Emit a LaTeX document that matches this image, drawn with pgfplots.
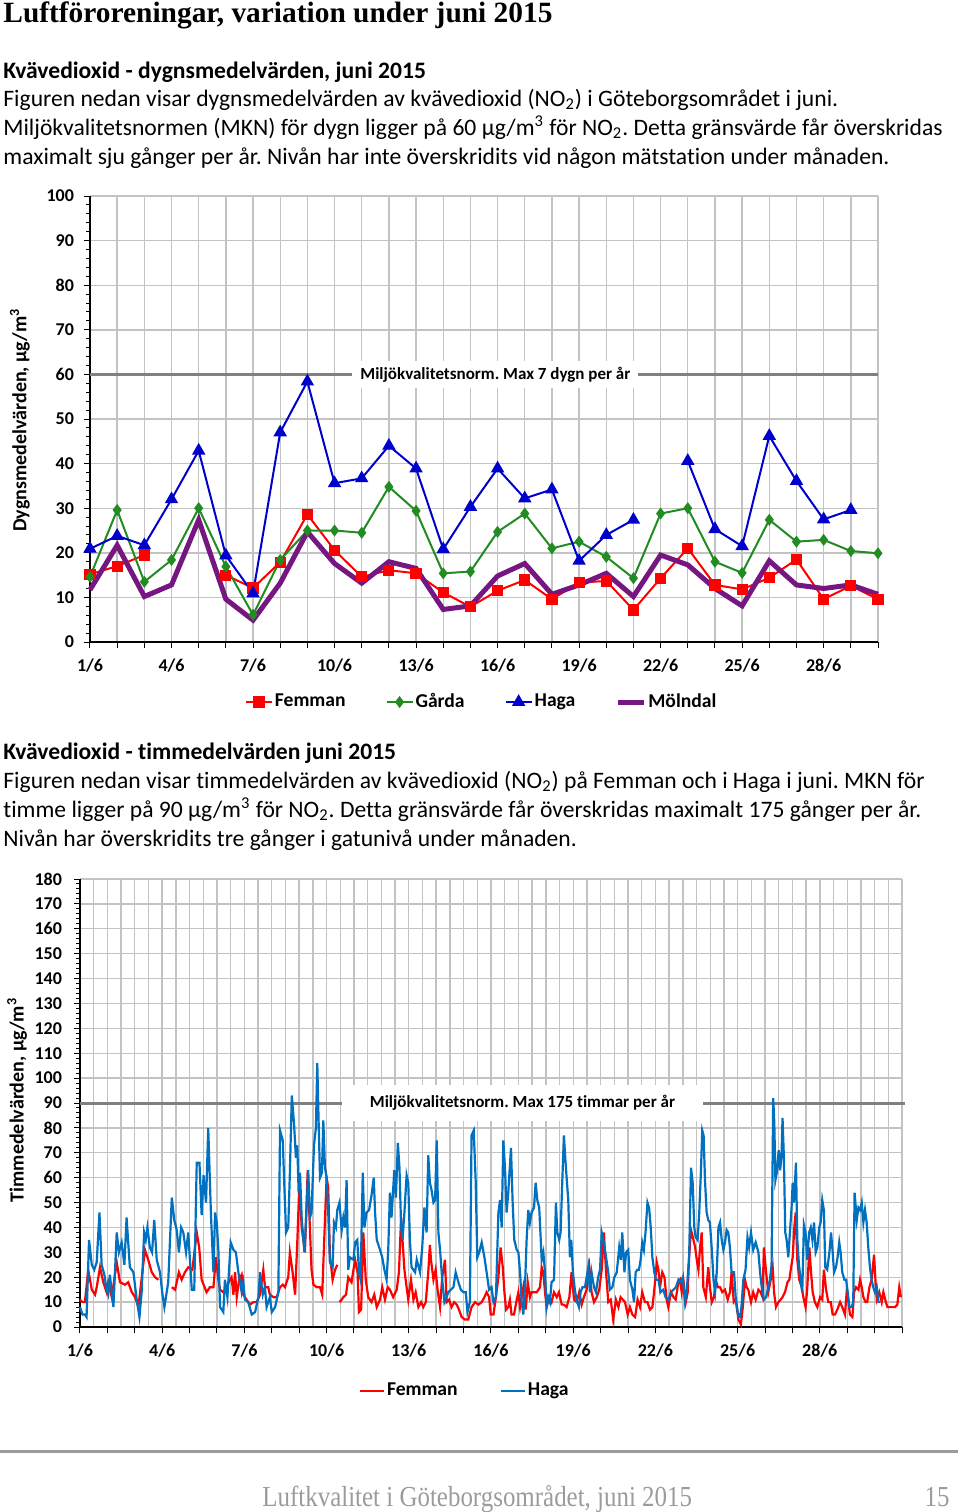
\documentclass[border=0pt]{standalone}
\usepackage{fontspec}
\setmainfont{Carlito}[Ligatures=NoCommon]
\newfontfamily\serifhead{Liberation Serif}
\newfontfamily\footfont{Liberation Serif}[FakeStretch=0.86]
\usepackage{pgfplots}
\usepackage{pgfplotstable}
\pgfplotsset{compat=1.18}
\frenchspacing
\definecolor{femred}{RGB}{255,0,0}
\definecolor{gargreen}{RGB}{34,139,34}
\definecolor{hagblue}{RGB}{0,0,204}
\definecolor{molpurple}{RGB}{118,22,128}
\definecolor{hagblue2}{RGB}{0,112,192}
\definecolor{gridgray}{RGB}{195,195,195}
\definecolor{mkngray}{RGB}{128,128,128}
\definecolor{footgray}{RGB}{155,155,155}

\pgfplotstableread{
day fem gar hag mol
1 15.2 14.6 20.9 11.7
2 17.0 29.6 23.8 21.7
3 19.5 13.5 21.7 10.2
4 nan 18.4 32.0 12.8
5 nan 30.0 42.9 27.4
6 15.0 16.9 19.4 9.6
7 12.1 6.1 10.9 4.9
8 17.9 18.4 47.0 13.2
9 28.6 25.0 58.4 24.7
10 20.6 25.0 35.6 17.6
11 14.6 24.5 36.7 13.2
12 16.1 34.8 44.0 18.0
13 15.4 29.4 38.9 16.5
14 11.1 15.4 20.8 7.3
15 7.9 15.8 30.3 8.1
16 11.5 24.7 38.9 14.8
17 13.9 28.8 32.2 17.6
18 9.6 21.0 34.2 10.7
19 13.3 22.5 18.2 12.8
20 13.7 19.1 24.0 15.4
21 7.2 14.3 27.4 10.2
22 14.3 28.8 nan 19.5
23 21.0 30.0 40.6 17.3
24 12.8 18.0 25.3 12.0
25 11.8 15.5 21.5 8.1
26 14.4 27.4 46.2 18.2
27 18.5 22.5 36.1 12.8
28 9.6 22.9 27.5 12.0
29 12.6 20.4 29.6 12.8
30 9.6 19.9 nan 10.7
}\topdata

\begin{document}
\begin{tikzpicture}
\useasboundingbox (0,0) rectangle (480pt,-756pt);
% texts
\node[anchor=base west, inner sep=0] at (1.5pt,-11pt) {\serifhead\bfseries\fontsize{14.7}{16}\selectfont Luftföroreningar, variation under juni 2015};
\node[anchor=base west, inner sep=0] at (1.5pt,-39pt) {\bfseries\fontsize{11.8}{14}\selectfont Kvävedioxid - dygnsmedelvärden, juni 2015};
\node[anchor=base west, inner sep=0] at (1.5pt,-53pt) {\fontsize{11.8}{14}\selectfont Figuren nedan visar dygnsmedelvärden av kvävedioxid (NO\textsubscript{2}) i Göteborgsområdet i juni.};
\node[anchor=base west, inner sep=0] at (1.5pt,-67.5pt) {\fontsize{11.8}{14}\selectfont Miljökvalitetsnormen (MKN) för dygn ligger på 60 µg/m\textsuperscript{3} för NO\textsubscript{2}. Detta gränsvärde får överskridas};
\node[anchor=base west, inner sep=0] at (1.5pt,-82pt) {\fontsize{11.8}{14}\selectfont maximalt sju gånger per år. Nivån har inte överskridits vid någon mätstation under månaden.};
\node[anchor=base west, inner sep=0] at (1.5pt,-379.5pt) {\bfseries\fontsize{11.8}{14}\selectfont Kvävedioxid - timmedelvärden juni 2015};
\node[anchor=base west, inner sep=0] at (1.5pt,-394pt) {\fontsize{11.8}{14}\selectfont Figuren nedan visar timmedelvärden av kvävedioxid (NO\textsubscript{2}) på Femman och i Haga i juni. MKN för};
\node[anchor=base west, inner sep=0] at (1.5pt,-408.5pt) {\fontsize{11.8}{14}\selectfont timme ligger på 90 µg/m\textsuperscript{3} för NO\textsubscript{2}. Detta gränsvärde får överskridas maximalt 175 gånger per år.};
\node[anchor=base west, inner sep=0] at (1.5pt,-423pt) {\fontsize{11.8}{14}\selectfont Nivån har överskridits tre gånger i gatunivå under månaden.};
% footer
\draw[footgray, line width=1.5pt] (0pt,-725.5pt) -- (479pt,-725.5pt);
\node[anchor=base west, inner sep=0, text=footgray] at (131pt,-753pt) {\footfont\fontsize{14.5}{16}\selectfont Luftkvalitet i Göteborgsområdet, juni 2015};
\node[anchor=base east, inner sep=0, text=footgray] at (475pt,-753pt) {\footfont\fontsize{14.5}{16}\selectfont 15};

% ---------- top chart
\begin{axis}[
  at={(45pt,-321pt)}, anchor=south west,
  scale only axis, width=394pt, height=223pt,
  xmin=1, xmax=30, ymin=0, ymax=100,
  axis lines=left, axis line style={-, black, line width=0.6pt},
  xtick={1,...,30},
  xticklabels={1/6,,,4/6,,,7/6,,,10/6,,,13/6,,,16/6,,,19/6,,,22/6,,,25/6,,,28/6,,},
  ytick={0,10,...,100},
  minor y tick num=4,
  xmajorgrids, ymajorgrids,
  grid style={gridgray, line width=0.7pt},
  tick style={black, line width=0.5pt},
  tick align=outside,
  major tick length=3pt, minor tick length=2pt,
  tick label style={font=\bfseries\fontsize{9}{10}\selectfont},
  xticklabel style={yshift=-2pt},
  yticklabel style={xshift=-1.5pt},
  /pgf/number format/assume math mode=true,
  ylabel={Dygnsmedelvärden, µg/m\textsuperscript{3}},
  ylabel style={font=\bfseries\fontsize{10}{12}\selectfont, at={(axis description cs:-0.089,0.498)}, anchor=center, rotate=0},
  unbounded coords=jump,
  clip=false,
  legend style={at={(axis description cs:0.497,-0.1345)}, anchor=center, draw=none, fill=none,
    legend columns=4, font=\bfseries\fontsize{9.8}{11}\selectfont,
    /tikz/every even column/.append style={column sep=19pt},
    nodes={inner xsep=1pt}},
  legend cell align=left,
  legend image code/.code={\draw[mark repeat=2,mark phase=2,#1] plot coordinates {(0pt,0pt) (6.5pt,0pt) (13pt,0pt)};},
]
\addplot[forget plot, mkngray, line width=1.5pt] coordinates {(1,60) (30,60)};
\node[fill=white, inner xsep=4pt, inner ysep=3pt, font=\bfseries\fontsize{8.5}{10}\selectfont] at (axis cs:15.92,60) {Miljökvalitetsnorm. Max 7 dygn per år};
\addplot[femred, line width=1pt, mark=square*, mark size=2.3pt, mark options={solid, fill=femred}] table[x=day, y=fem] {\topdata};
\addlegendentry{Femman}
\addplot[gargreen, line width=1pt, mark=diamond*, mark size=2.2pt, mark options={solid, fill=gargreen}] table[x=day, y=gar] {\topdata};
\addlegendentry{Gårda}
\addplot[hagblue, line width=1pt, mark=triangle*, mark size=2.9pt, mark options={solid, fill=hagblue}] table[x=day, y=hag] {\topdata};
\addlegendentry{Haga}
\addplot[molpurple, line width=2.5pt, no markers] table[x=day, y=mol] {\topdata};
\addlegendentry{Mölndal}
\end{axis}

% ---------- bottom chart
\begin{axis}[
  at={(40pt,-663.5pt)}, anchor=south west,
  scale only axis, width=411pt, height=224pt,
  xmin=0, xmax=30, ymin=0, ymax=180,
  axis lines=left, axis line style={-, black, line width=0.6pt},
  xtick={0,...,30},
  xticklabels={1/6,,,4/6,,,7/6,,,10/6,,,13/6,,,16/6,,,19/6,,,22/6,,,25/6,,,28/6,,,},
  minor x tick num=1,
  minor x tick style={draw=none},
  ytick={0,10,...,180},
  minor y tick num=4,
  xmajorgrids, xminorgrids, ymajorgrids,
  grid style={gridgray, line width=0.7pt},
  minor grid style={gridgray, line width=0.7pt},
  tick style={black, line width=0.5pt},
  tick align=outside,
  major tick length=3pt, minor tick length=2pt,
  tick label style={font=\bfseries\fontsize{9}{10}\selectfont},
  xticklabel style={yshift=-2pt},
  yticklabel style={xshift=-2.5pt},
  /pgf/number format/assume math mode=true,
  ylabel={Timmedelvärden, µg/m\textsuperscript{3}},
  ylabel style={font=\bfseries\fontsize{10}{12}\selectfont, at={(axis description cs:-0.0766,0.507)}, anchor=center, rotate=0},
  unbounded coords=jump,
  clip=false,
  legend style={at={(axis description cs:0.468,-0.143)}, anchor=center, draw=none, fill=none,
    legend columns=2, font=\bfseries\fontsize{9.8}{11}\selectfont,
    /tikz/every even column/.append style={column sep=20pt},
    nodes={inner xsep=1pt}},
  legend cell align=left,
  legend image code/.code={\draw[#1] (0pt,0pt) -- (12pt,0pt);},
]
\addplot[forget plot, mkngray, line width=1.5pt] coordinates {(0,90) (30.1,90)};
\node[fill=white, inner xsep=14pt, inner ysep=5pt, font=\bfseries\fontsize{8.5}{10}\selectfont] at (axis cs:16.15,90) {Miljökvalitetsnorm. Max 175 timmar per år};
\addplot[femred, line width=1.1pt, no markers] table {
t v
0 11
0.09 10
0.18 10
0.30 23
0.43 15
0.55 13
0.61 16
0.73 24
0.85 18
0.97 14
1.03 18
1.16 12
1.34 26
1.46 18
1.64 17
1.76 18
1.89 14
2.01 12
2.13 8
2.37 31
2.49 27
2.62 22
2.74 20
2.86 19
2.95 nan
3.35 16
3.47 15
3.61 22
3.71 19
3.83 22
3.95 24
4.10 23
4.26 38
4.35 32
4.44 19
4.62 14
4.74 16
4.87 16
4.96 28
5.05 19
5.11 15
5.23 14
5.35 16
5.47 19
5.53 20
5.60 13
5.66 22
5.72 12
5.81 19
5.90 21
5.96 13
6.08 11
6.20 9
6.33 10
6.45 10
6.57 13
6.69 23
6.75 16
6.87 16
6.93 13
7.06 12
7.18 12
7.30 16
7.40 17
7.48 16
7.60 20
7.66 30
7.76 22
7.85 13
7.93 34
8.01 59
8.09 40
8.21 30
8.31 63
8.39 40
8.45 23
8.52 17
8.64 16
8.76 16
8.84 13
8.93 40
9.00 60
9.06 56
9.12 29
9.22 19
9.31 23
9.39 25
9.43 nan
9.47 10
9.55 11
9.61 12
9.71 13
9.79 20
9.91 18
9.98 23
10.04 27
10.13 22
10.18 6
10.26 7
10.34 38
10.43 19
10.52 12
10.64 10
10.74 13
10.83 8
10.95 11
11.03 16
11.13 11
11.23 16
11.31 15
11.43 12
11.56 15
11.64 22
11.72 44
11.77 35
11.84 23
11.92 16
11.98 11
12.08 19
12.17 11
12.25 14
12.35 8
12.45 10
12.53 8
12.62 10
12.71 22
12.77 33
12.81 27
12.90 19
12.98 23
13.05 15
13.14 8
13.22 20
13.32 27
13.38 10
13.47 11
13.56 8
13.66 10
13.75 9
13.83 7
13.93 4
14.05 3
14.17 3
14.29 8
14.42 10
14.54 9
14.66 10
14.76 12
14.84 14
14.93 12
14.99 5
15.09 5
15.18 12
15.27 20
15.35 32
15.43 24
15.49 14
15.55 7
15.63 8
15.69 11
15.75 5
15.84 5
15.94 11
16.00 14
16.06 8
16.18 16
16.27 7
16.34 18
16.42 12
16.48 14
16.57 14
16.67 14
16.79 16
16.85 24
16.91 22
16.97 14
17.03 8
17.13 12
17.21 10
17.30 14
17.40 12
17.48 14
17.58 9
17.66 9
17.76 8
17.86 12
17.94 22
18.03 11
18.13 10
18.22 14
18.31 9
18.39 12
18.49 15
18.59 24
18.67 14
18.76 10
18.86 12
18.95 15
19.04 23
19.12 38
19.20 22
19.28 10
19.37 11
19.46 3
19.56 11
19.65 8
19.73 12
19.89 10
19.99 5
20.07 8
20.16 5
20.26 4
20.35 11
20.44 8
20.52 14
20.62 10
20.71 10
20.80 7
20.89 8
20.96 15
21.05 26
21.11 23
21.17 16
21.25 22
21.33 20
21.41 11
21.47 8
21.57 14
21.66 12
21.74 11
21.84 18
21.90 19
21.96 14
22.02 19
22.11 10
22.18 14
22.23 28
22.30 39
22.39 35
22.45 32
22.51 27
22.57 23
22.63 32
22.69 38
22.75 16
22.84 12
22.93 24
22.99 16
23.06 10
23.14 12
23.20 19
23.28 16
23.36 16
23.44 14
23.54 15
23.64 11
23.72 14
23.78 22
23.86 10
23.93 11
24.03 3
24.12 1
24.19 8
24.27 19
24.33 16
24.39 15
24.49 10
24.57 14
24.66 11
24.76 15
24.84 14
24.91 12
24.96 32
25.04 22
25.12 14
25.21 19
25.28 24
25.33 14
25.40 8
25.49 10
25.57 11
25.64 12
25.73 14
25.82 18
25.89 19
25.94 23
26.01 28
26.07 40
26.12 46
26.18 27
26.25 19
26.34 16
26.40 12
26.48 8
26.54 15
26.62 32
26.68 22
26.74 14
26.82 10
26.91 8
27.01 12
27.09 11
27.15 23
27.23 15
27.31 10
27.40 10
27.47 5
27.55 5
27.64 7
27.74 10
27.82 8
27.92 5
27.98 14
28.04 11
28.10 5
28.19 4
28.25 14
28.32 16
28.41 15
28.47 19
28.53 16
28.59 12
28.67 10
28.73 10
28.81 16
28.89 19
28.98 29
29.03 19
29.08 11
29.17 14
29.26 10
29.32 14
29.41 10
29.47 8
29.56 8
29.66 8
29.74 8
29.83 9
29.90 16
29.96 12
};
\addlegendentry{Femman}
\addplot[hagblue2, line width=1.1pt, no markers] table {
t v
0 8
0.09 5
0.18 5
0.24 4
0.33 35
0.43 25
0.52 23
0.61 26
0.71 46
0.79 25
0.89 21
0.97 15
1.03 13
1.09 21
1.22 8
1.34 38
1.42 30
1.52 34
1.62 25
1.70 44
1.82 24
1.95 22
2.07 11
2.17 4
2.25 14
2.34 38
2.40 35
2.46 40
2.55 32
2.63 30
2.71 43
2.80 27
2.92 22
3.00 14
3.08 8
3.22 18
3.35 52
3.44 43
3.53 39
3.61 30
3.69 40
3.77 38
3.87 30
3.95 38
4.08 15
4.17 15
4.26 66
4.36 66
4.44 45
4.51 61
4.60 50
4.68 80
4.78 45
4.87 22
4.93 46
4.99 42
5.05 31
5.11 8
5.23 6
5.29 19
5.38 12
5.50 34
5.60 31
5.69 30
5.78 22
5.90 14
5.96 18
6.02 11
6.14 10
6.27 5
6.39 6
6.51 12
6.57 22
6.67 13
6.75 16
6.81 8
6.93 12
7.00 6
7.12 8
7.24 14
7.30 79
7.40 75
7.45 59
7.52 38
7.60 40
7.66 62
7.73 93
7.81 82
7.88 68
7.93 73
7.98 54
8.03 62
8.09 44
8.19 30
8.27 48
8.33 63
8.39 44
8.45 46
8.54 73
8.61 80
8.66 106
8.71 82
8.76 60
8.83 62
8.88 83
8.94 64
9.00 60
9.06 46
9.12 26
9.22 24
9.27 42
9.34 40
9.39 47
9.47 50
9.55 39
9.61 44
9.67 40
9.73 59
9.79 23
9.85 28
9.98 27
10.04 34
10.12 35
10.18 22
10.24 19
10.32 62
10.38 40
10.46 46
10.55 47
10.64 53
10.72 60
10.77 46
10.83 35
10.89 33
10.95 31
11.03 28
11.11 23
11.19 19
11.25 31
11.31 54
11.37 44
11.47 63
11.53 52
11.60 74
11.66 64
11.72 40
11.77 35
11.84 46
11.92 61
11.98 58
12.04 35
12.10 24
12.23 22
12.29 27
12.41 22
12.49 32
12.57 48
12.65 38
12.71 69
12.77 58
12.83 55
12.90 50
12.96 51
13.02 75
13.08 38
13.14 31
13.22 19
13.30 10
13.38 12
13.44 14
13.54 15
13.63 16
13.71 22
13.81 18
13.90 15
13.99 14
14.08 14
14.14 6
14.23 10
14.29 77
14.37 79
14.44 59
14.50 28
14.57 30
14.66 34
14.76 28
14.84 22
14.93 15
15.02 16
15.09 10
15.18 12
15.27 46
15.33 51
15.39 40
15.45 75
15.51 64
15.57 46
15.63 54
15.73 72
15.79 50
15.85 35
15.94 31
16.00 30
16.06 22
16.12 10
16.18 5
16.24 16
16.30 35
16.36 47
16.42 42
16.48 46
16.57 48
16.63 58
16.69 51
16.76 48
16.85 27
16.91 30
16.97 22
17.03 8
17.09 12
17.15 10
17.21 18
17.30 19
17.37 50
17.42 38
17.49 35
17.54 38
17.60 58
17.66 77
17.71 68
17.76 60
17.82 51
17.88 28
17.93 35
17.99 22
18.06 15
18.12 11
18.21 8
18.27 14
18.34 16
18.43 16
18.49 20
18.55 24
18.61 14
18.67 22
18.76 16
18.83 14
18.91 20
18.98 23
19.04 38
19.12 34
19.20 28
19.28 22
19.34 15
19.43 16
19.50 20
19.59 22
19.68 32
19.74 27
19.79 38
19.87 22
19.93 30
20.01 31
20.07 19
20.16 15
20.22 10
20.28 22
20.34 23
20.40 23
20.46 27
20.52 34
20.58 31
20.64 38
20.71 50
20.77 48
20.83 40
20.89 28
20.96 22
21.02 19
21.11 19
21.19 14
21.29 15
21.37 12
21.47 11
21.57 14
21.66 15
21.75 16
21.84 19
21.92 18
22.00 20
22.08 10
22.14 14
22.23 28
22.30 64
22.36 58
22.42 40
22.47 36
22.54 35
22.60 46
22.66 62
22.71 79
22.76 77
22.81 59
22.87 46
22.93 43
22.99 42
23.06 31
23.12 19
23.18 14
23.24 22
23.30 40
23.36 42
23.42 35
23.48 31
23.54 34
23.60 39
23.66 38
23.72 32
23.78 22
23.87 22
23.93 12
24.03 4
24.09 4
24.14 8
24.21 19
24.29 23
24.36 36
24.42 32
24.49 38
24.57 31
24.66 34
24.76 30
24.82 22
24.88 16
24.96 11
25.04 12
25.12 16
25.18 19
25.24 25
25.30 92
25.34 82
25.38 59
25.43 62
25.50 71
25.55 63
25.60 68
25.64 84
25.69 68
25.74 38
25.79 35
25.85 28
25.91 38
25.97 48
26.01 58
26.06 50
26.13 66
26.18 35
26.24 25
26.30 19
26.36 14
26.42 41
26.48 38
26.54 27
26.61 38
26.67 40
26.73 35
26.79 42
26.85 30
26.91 32
26.98 40
27.03 42
27.09 51
27.15 47
27.20 24
27.27 23
27.35 30
27.41 38
27.47 30
27.52 22
27.59 24
27.65 28
27.71 34
27.76 30
27.82 22
27.90 19
27.96 19
28.02 14
28.08 8
28.16 8
28.22 10
28.27 54
28.35 43
28.41 48
28.47 47
28.53 50
28.59 42
28.65 47
28.71 42
28.77 32
28.83 24
28.89 19
28.95 16
29.01 14
29.08 16
29.14 10
29.20 10
};
\addlegendentry{Haga}
\end{axis}
\end{tikzpicture}
\end{document}
